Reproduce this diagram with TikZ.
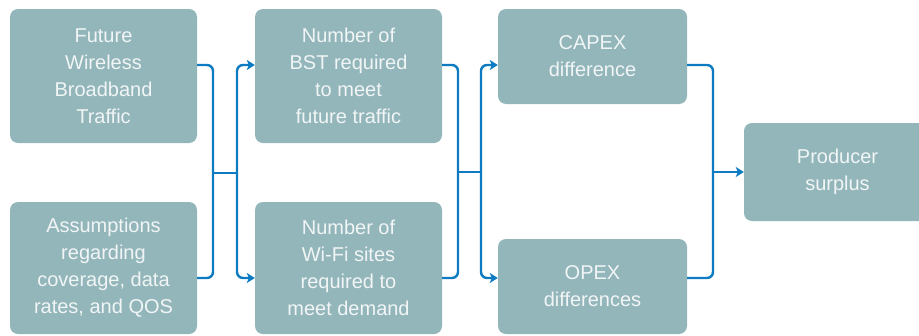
\documentclass[tikz,border=0pt]{standalone}
\usepackage{fontspec}
\setmainfont{Liberation Sans}
\usetikzlibrary{arrows.meta,calc}
\definecolor{boxfill}{HTML}{93B6BB}
\definecolor{boxtext}{HTML}{F1F5F5}
\definecolor{linkblue}{HTML}{0C7BC1}
\tikzset{
  stepbox/.style={fill=boxfill, rounded corners=8pt, text=boxtext, align=center,
    font=\fontsize{20pt}{27pt}\selectfont, inner sep=0pt, minimum width=187pt},
  link/.style={draw=linkblue, line width=2.4pt, rounded corners=6pt},
  linkarrow/.style={link, -{Stealth[length=8pt,width=10pt,inset=2pt]}}
}
\begin{document}
\begin{tikzpicture}[x=1pt,y=-1pt]
\useasboundingbox (0,0) rectangle (919,335);
\clip (0,0) rectangle (919,335);
\node[stepbox, minimum height=134pt] (b1) at (103.5,76) {Future\\Wireless\\Broadband\\Traffic};
\node[stepbox, minimum height=132pt] (b2) at (103.5,268) {Assumptions\\regarding\\coverage, data\\rates, and QOS};
\node[stepbox, minimum height=134pt] (b3) at (348.5,76) {Number of\\BST required\\to meet\\future traffic};
\node[stepbox, minimum height=132pt] (b4) at (348.5,268) {Number of\\Wi-Fi sites\\required to\\meet demand};
\node[stepbox, minimum width=189pt, minimum height=95pt] (b5) at (592.5,56.5) {CAPEX\\difference};
\node[stepbox, minimum width=189pt, minimum height=95pt] (b6) at (592.5,286.5) {OPEX\\differences};
\node[stepbox, minimum height=98pt] (b7) at (837.5,172) {Producer\\surplus};
% junctions
\coordinate (j1a) at (213,173);
\coordinate (j1b) at (237,173);
\coordinate (j2a) at (458,172);
\coordinate (j2b) at (481,172);
\coordinate (j3) at (713,172);
% first stage
\draw[link] ([yshift=11pt]b1.east) -| (j1a);
\draw[link] ([yshift=-10pt]b2.east) -| (j1a);
\draw[link] (j1a) -- (j1b);
\draw[linkarrow] (j1b) |- ([yshift=11pt]b3.west);
\draw[linkarrow] (j1b) |- ([yshift=-10pt]b4.west);
% second stage
\draw[link] ([yshift=11pt]b3.east) -| (j2a);
\draw[link] ([yshift=-10pt]b4.east) -| (j2a);
\draw[link] (j2a) -- (j2b);
\draw[linkarrow] (j2b) |- ([yshift=-8.5pt]b5.west);
\draw[linkarrow] (j2b) |- ([yshift=8.5pt]b6.west);
% third stage
\draw[link] ([yshift=-8.5pt]b5.east) -| (j3);
\draw[link] ([yshift=8.5pt]b6.east) -| (j3);
\draw[linkarrow] (j3) -- (b7.west);
\end{tikzpicture}
\end{document}
